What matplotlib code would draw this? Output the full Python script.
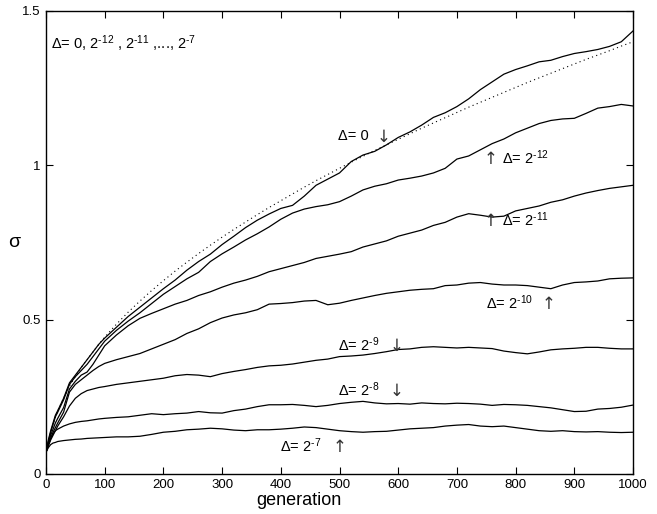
import matplotlib
matplotlib.use("Agg")
import matplotlib.pyplot as plt

plt.rcParams["font.family"] = ["Liberation Sans", "DejaVu Sans"]
plt.rcParams["mathtext.fontset"] = "custom"
plt.rcParams["mathtext.rm"] = "Liberation Sans"
plt.rcParams["mathtext.it"] = "Liberation Sans"

gen = [0, 4, 8, 12, 16, 20, 30, 40, 50, 60, 70, 80, 90, 100,
       120, 140, 160, 180, 200, 220, 240, 260, 280, 300, 320, 340, 360, 380,
       400, 420, 440, 460, 480, 500, 520, 540, 560, 580, 600, 620, 640, 660,
       680, 700, 720, 740, 760, 780, 800, 820, 840, 860, 880, 900, 920, 940,
       960, 980, 1000]

# dotted reference curve
sigma_ref = [0.07, 0.10, 0.135, 0.16, 0.185, 0.205, 0.245, 0.285, 0.315, 0.345, 0.37, 0.395, 0.42, 0.443,
             0.485, 0.524, 0.56, 0.594, 0.626, 0.657, 0.686, 0.714, 0.741, 0.767, 0.792, 0.816, 0.84, 0.863,
             0.885, 0.907, 0.929, 0.95, 0.97, 0.99, 1.01, 1.029, 1.048, 1.066, 1.084, 1.102, 1.12, 1.137,
             1.154, 1.171, 1.188, 1.204, 1.22, 1.236, 1.252, 1.268, 1.283, 1.298, 1.313, 1.328, 1.343, 1.357,
             1.371, 1.386, 1.40]

d0 = [0.07, 0.11, 0.14, 0.165, 0.19, 0.205, 0.245, 0.295, 0.32, 0.345, 0.37, 0.395, 0.42, 0.44,
      0.475, 0.51, 0.54, 0.57, 0.6, 0.628, 0.66, 0.688, 0.712, 0.743, 0.77, 0.798, 0.822, 0.842,
      0.86, 0.87, 0.9, 0.935, 0.955, 0.975, 1.012, 1.033, 1.045, 1.066, 1.09, 1.108, 1.13, 1.155,
      1.17, 1.19, 1.215, 1.245, 1.27, 1.295, 1.31, 1.322, 1.335, 1.34, 1.352, 1.362, 1.368, 1.375,
      1.385, 1.40, 1.435]

d12 = [0.07, 0.105, 0.135, 0.16, 0.185, 0.2, 0.24, 0.29, 0.315, 0.335, 0.355, 0.38, 0.405, 0.43,
       0.465, 0.495, 0.522, 0.552, 0.582, 0.607, 0.632, 0.653, 0.688, 0.713, 0.735, 0.758, 0.778, 0.80,
       0.825, 0.845, 0.858, 0.866, 0.872, 0.882, 0.9, 0.92, 0.932, 0.94, 0.952, 0.958, 0.965, 0.975,
       0.99, 1.02, 1.03, 1.05, 1.07, 1.085, 1.105, 1.12, 1.135, 1.145, 1.15, 1.152, 1.168, 1.185,
       1.19, 1.197, 1.192]

d11 = [0.07, 0.1, 0.125, 0.145, 0.165, 0.18, 0.215, 0.275, 0.30, 0.32, 0.33, 0.355, 0.385, 0.415,
       0.45, 0.48, 0.504, 0.52, 0.535, 0.55, 0.562, 0.578, 0.59, 0.605, 0.618, 0.628, 0.64, 0.655,
       0.665, 0.675, 0.685, 0.698, 0.705, 0.712, 0.72, 0.735, 0.745, 0.755, 0.77, 0.78, 0.79, 0.805,
       0.815, 0.832, 0.843, 0.838, 0.832, 0.835, 0.852, 0.86, 0.868, 0.88, 0.888, 0.9, 0.91, 0.918,
       0.925, 0.93, 0.935]

d10 = [0.07, 0.095, 0.115, 0.135, 0.15, 0.165, 0.2, 0.265, 0.29, 0.305, 0.32, 0.335, 0.348, 0.358,
       0.37, 0.38, 0.39, 0.405, 0.42, 0.435, 0.455, 0.47, 0.49, 0.505, 0.515, 0.522, 0.532, 0.55,
       0.552, 0.555, 0.56, 0.562, 0.548, 0.553, 0.562, 0.57, 0.578, 0.585, 0.59, 0.595, 0.598, 0.6,
       0.61, 0.612, 0.618, 0.62, 0.615, 0.612, 0.612, 0.61, 0.605, 0.6, 0.612, 0.62, 0.622, 0.625,
       0.632, 0.634, 0.635]

d9 = [0.07, 0.09, 0.11, 0.125, 0.14, 0.155, 0.185, 0.22, 0.245, 0.26, 0.27, 0.275, 0.28, 0.283,
      0.29, 0.295, 0.3, 0.305, 0.31, 0.318, 0.322, 0.32, 0.315, 0.325, 0.332, 0.338, 0.345, 0.35,
      0.352, 0.356, 0.362, 0.368, 0.372, 0.38, 0.382, 0.385, 0.39, 0.396, 0.403, 0.405, 0.41, 0.412,
      0.41, 0.408, 0.41, 0.408, 0.406, 0.398, 0.393, 0.389, 0.395, 0.402, 0.405, 0.407, 0.41, 0.41,
      0.407, 0.405, 0.405]

d8 = [0.07, 0.095, 0.115, 0.13, 0.14, 0.145, 0.155, 0.162, 0.167, 0.17, 0.172, 0.175, 0.178, 0.18,
      0.183, 0.185, 0.19, 0.195, 0.192, 0.195, 0.197, 0.202, 0.198, 0.197, 0.205, 0.21, 0.218, 0.224,
      0.224, 0.225, 0.222, 0.218, 0.222, 0.228, 0.232, 0.235, 0.23, 0.227, 0.228, 0.226, 0.23, 0.228,
      0.227, 0.229, 0.228, 0.226, 0.222, 0.225, 0.224, 0.222, 0.218, 0.214, 0.208, 0.202, 0.203, 0.21,
      0.212, 0.216, 0.223]

d7 = [0.07, 0.085, 0.095, 0.1, 0.102, 0.105, 0.108, 0.11, 0.112, 0.113, 0.115, 0.116, 0.117, 0.118,
      0.12, 0.12, 0.122, 0.128, 0.135, 0.138, 0.143, 0.145, 0.148, 0.146, 0.142, 0.14, 0.143, 0.143,
      0.145, 0.148, 0.152, 0.15, 0.145, 0.14, 0.137, 0.135, 0.137, 0.138, 0.142, 0.146, 0.148, 0.15,
      0.155, 0.158, 0.16, 0.155, 0.153, 0.155, 0.15, 0.145, 0.14, 0.138, 0.14, 0.137, 0.136, 0.137,
      0.135, 0.134, 0.135]

curves = [d0, d12, d11, d10, d9, d8, d7]

# labels: (text, text x, y, arrow, arrow x)
labels = [
    ("Δ= 0", 497, 1.095, "↓", 563),
    ("Δ= 2$^{\\text{-12}}$", 777, 1.024, "↑", 745),
    ("Δ= 2$^{\\text{-11}}$", 777, 0.823, "↑", 745),
    ("Δ= 2$^{\\text{-10}}$", 750, 0.554, "↑", 845),
    ("Δ= 2$^{\\text{-9}}$", 497, 0.418, "↓", 585),
    ("Δ= 2$^{\\text{-8}}$", 497, 0.272, "↓", 585),
    ("Δ= 2$^{\\text{-7}}$", 399, 0.091, "↑", 488),
]

fig = plt.figure(figsize=(6.57, 5.14), dpi=100)
ax = fig.add_axes([0.070, 0.078, 0.8935, 0.9008])

ax.plot(gen, sigma_ref, color="black", linestyle=(0, (1, 3)), linewidth=0.8)
for c in curves:
    ax.plot(gen, c, color="black", linewidth=0.9)

for txt, x, y, arrow, ax_x in labels:
    ax.text(x, y, txt, fontsize=10.5, ha="left", va="center")
    ax.text(ax_x, y - 0.004, arrow, fontsize=12, ha="left", va="center",
            family="DejaVu Sans", color="#333333")

ax.text(8, 1.393, "Δ= 0, 2$^{\\text{-12}}$ , 2$^{\\text{-11}}$ ,..., 2$^{\\text{-7}}$",
        fontsize=10.5, ha="left", va="center")

ax.set_xlim(0, 1000)
ax.set_ylim(0, 1.5)
ax.set_xticks(range(0, 1001, 100))
ax.set_yticks([0, 0.5, 1, 1.5])
ax.set_yticklabels(["0", "0.5", "1", "1.5"])
ax.tick_params(direction="in", top=True, right=True, length=5, width=0.8,
               labelsize=9.5, pad=4)
for s in ax.spines.values():
    s.set_linewidth(1.0)

ax.set_xlabel("generation", fontsize=13)
ax.xaxis.set_label_coords(0.43, -0.04)
ax.set_ylabel("σ", fontsize=14, rotation=0, va="center")
ax.yaxis.set_label_coords(-0.054, 0.5)

fig.savefig("out.png", dpi=100)
